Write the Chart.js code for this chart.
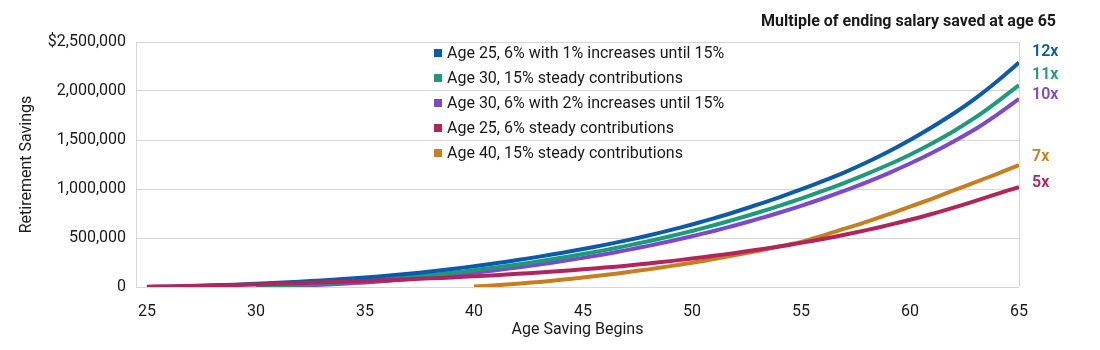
<!DOCTYPE html>
<html>
<head>
<meta charset="utf-8">
<script src="https://cdn.jsdelivr.net/npm/chart.js@4/dist/chart.umd.min.js"></script>
<style>
  html, body { margin: 0; padding: 0; background: #fff; }
  #wrap { width: 1100px; height: 350px; }
</style>
</head>
<body>
<div id="wrap"><canvas id="savingsChart"></canvas></div>
<script>
const ages = [25, 26, 27, 28, 29, 30, 31, 32, 33, 34, 35, 36, 37, 38, 39, 40, 41, 42, 43, 44, 45,
  46, 47, 48, 49, 50, 51, 52, 53, 54, 55, 56, 57, 58, 59, 60, 61, 62, 63, 64, 65];
const xTicks = [25, 30, 35, 40, 45, 50, 55, 60, 65];

// values in thousands of dollars, null = not yet saving
const age25Increasing = [1, 5, 10, 17, 24, 33, 43, 54, 67, 81, 97, 115, 135, 158, 184, 212, 242, 275, 310, 347, 387,
  430, 476, 526, 580, 638, 700, 768, 840, 915, 995, 1080, 1170, 1270, 1380, 1500, 1630, 1770, 1925, 2100, 2290];
const age30Steady15 = [null, null, null, null, null, 3, 12, 22, 34, 48, 63, 80, 100, 122, 146, 172, 200, 230, 263, 298, 336,
  376, 420, 467, 518, 572, 630, 692, 758, 828, 902, 980, 1063, 1152, 1247, 1350, 1465, 1590, 1730, 1890, 2060];
const age30Increasing = [null, null, null, null, null, 1, 7, 14, 23, 34, 47, 62, 80, 100, 122, 146, 172, 200, 230, 262, 297,
  335, 376, 420, 467, 518, 572, 630, 692, 758, 828, 903, 983, 1068, 1160, 1260, 1368, 1485, 1612, 1760, 1920];
const age25Steady6 = [2, 6, 10, 15, 20, 26, 32, 39, 46, 54, 62, 70, 79, 88, 98, 109, 121, 134, 148, 163, 180,
  198, 218, 240, 264, 290, 318, 348, 380, 414, 450, 490, 533, 580, 631, 686, 745, 810, 878, 950, 1020];
const age40Steady15 = [null, null, null, null, null, null, null, null, null, null, null, null, null, null, null, 5, 17, 33, 52, 73, 96,
  122, 150, 180, 213, 248, 285, 325, 368, 413, 460, 525, 595, 665, 740, 820, 900, 985, 1070, 1155, 1245];

const seriesNames = [
  "Age 25, 6% with 1% increases until 15%",
  "Age 30, 15% steady contributions",
  "Age 30, 6% with 2% increases until 15%",
  "Age 25, 6% steady contributions",
  "Age 40, 15% steady contributions"
];
const seriesValues = [age25Increasing, age30Steady15, age30Increasing, age25Steady6, age40Steady15];
const endLabels = ["12x", "11x", "10x", "5x", "7x"];
const colors = ["#0a5bab", "#1c9b7a", "#7e48cc", "#b3245c", "#c77f1e"];
const drawOrder = [3, 4, 5, 1, 2];
const labelShift = [-11, -10, -4, -4, -8];

const FONT = "Roboto, 'Open Sans', sans-serif";
const INK = "#1a1a1a";

function toPoints(values) {
  const pts = [];
  values.forEach((v, i) => {
    if (v !== null) pts.push({ x: ages[i], y: v * 1000 });
  });
  return pts;
}

const overlayPlugin = {
  id: "overlay",
  afterDatasetsDraw(chart) {
    const { ctx, chartArea, scales } = chart;
    ctx.save();
    // title
    ctx.fillStyle = INK;
    ctx.font = "bold 16px " + FONT;
    ctx.textAlign = "right";
    ctx.textBaseline = "middle";
    ctx.fillText("Multiple of ending salary saved at age 65", 1056, 22);

    // legend inside plot
    ctx.font = "16px " + FONT;
    ctx.textAlign = "left";
    seriesNames.forEach((name, i) => {
      const y = 53 + i * 25;
      ctx.fillStyle = colors[i];
      ctx.fillRect(434, y - 4, 8, 8);
      ctx.fillStyle = INK;
      ctx.fillText(name, 447, y + 1);
    });

    // end labels
    ctx.font = "600 16px " + FONT;
    chart.data.datasets.forEach((ds, i) => {
      const last = ds.data[ds.data.length - 1];
      const y = scales.y.getPixelForValue(last.y) + labelShift[i];
      ctx.fillStyle = colors[i];
      ctx.fillText(endLabels[i], chartArea.right + 13, y);
    });
    ctx.restore();
  }
};

new Chart(document.getElementById("savingsChart"), {
  type: "line",
  data: {
    datasets: seriesNames.map((name, i) => ({
      label: name,
      data: toPoints(seriesValues[i]),
      borderColor: colors[i],
      backgroundColor: colors[i],
      borderWidth: 4,
      pointRadius: 0,
      tension: 0.3,
      order: drawOrder[i]
    }))
  },
  options: {
    responsive: true,
    maintainAspectRatio: false,
    animation: false,
    layout: { padding: { top: 42, right: 81, left: 0, bottom: 0 } },
    plugins: {
      legend: { display: false },
      tooltip: { enabled: false }
    },
    scales: {
      x: {
        type: "linear",
        min: 24.5,
        max: 65,
        afterBuildTicks: scale => { scale.ticks = xTicks.map(v => ({ value: v })); },
        afterFit: scale => { scale.height = 63; },
        grid: {
          drawTicks: false,
          color: c => (c.tick && c.tick.value === 65 ? "#d6d6d6" : "rgba(0,0,0,0)")
        },
        border: { display: false },
        ticks: { color: INK, font: { family: FONT, size: 16 }, padding: 15, maxRotation: 0 },
        title: {
          display: true,
          text: "Age Saving Begins",
          color: INK,
          font: { family: FONT, size: 16 },
          padding: { top: 0, bottom: 10 }
        }
      },
      y: {
        min: 0,
        max: 2500000,
        afterFit: scale => { scale.width = 136; },
        ticks: {
          stepSize: 500000,
          color: INK,
          font: { family: FONT, size: 16 },
          padding: 10,
          callback: v => (v === 2500000 ? "$" : "") + v.toLocaleString("en-US")
        },
        grid: { drawTicks: false, color: "#d6d6d6" },
        border: { display: true, color: "#d6d6d6" },
        title: {
          display: true,
          text: "Retirement Savings",
          color: INK,
          font: { family: FONT, size: 16 },
          padding: { top: 17, bottom: 0 }
        }
      }
    }
  },
  plugins: [overlayPlugin]
});
</script>
</body>
</html>
